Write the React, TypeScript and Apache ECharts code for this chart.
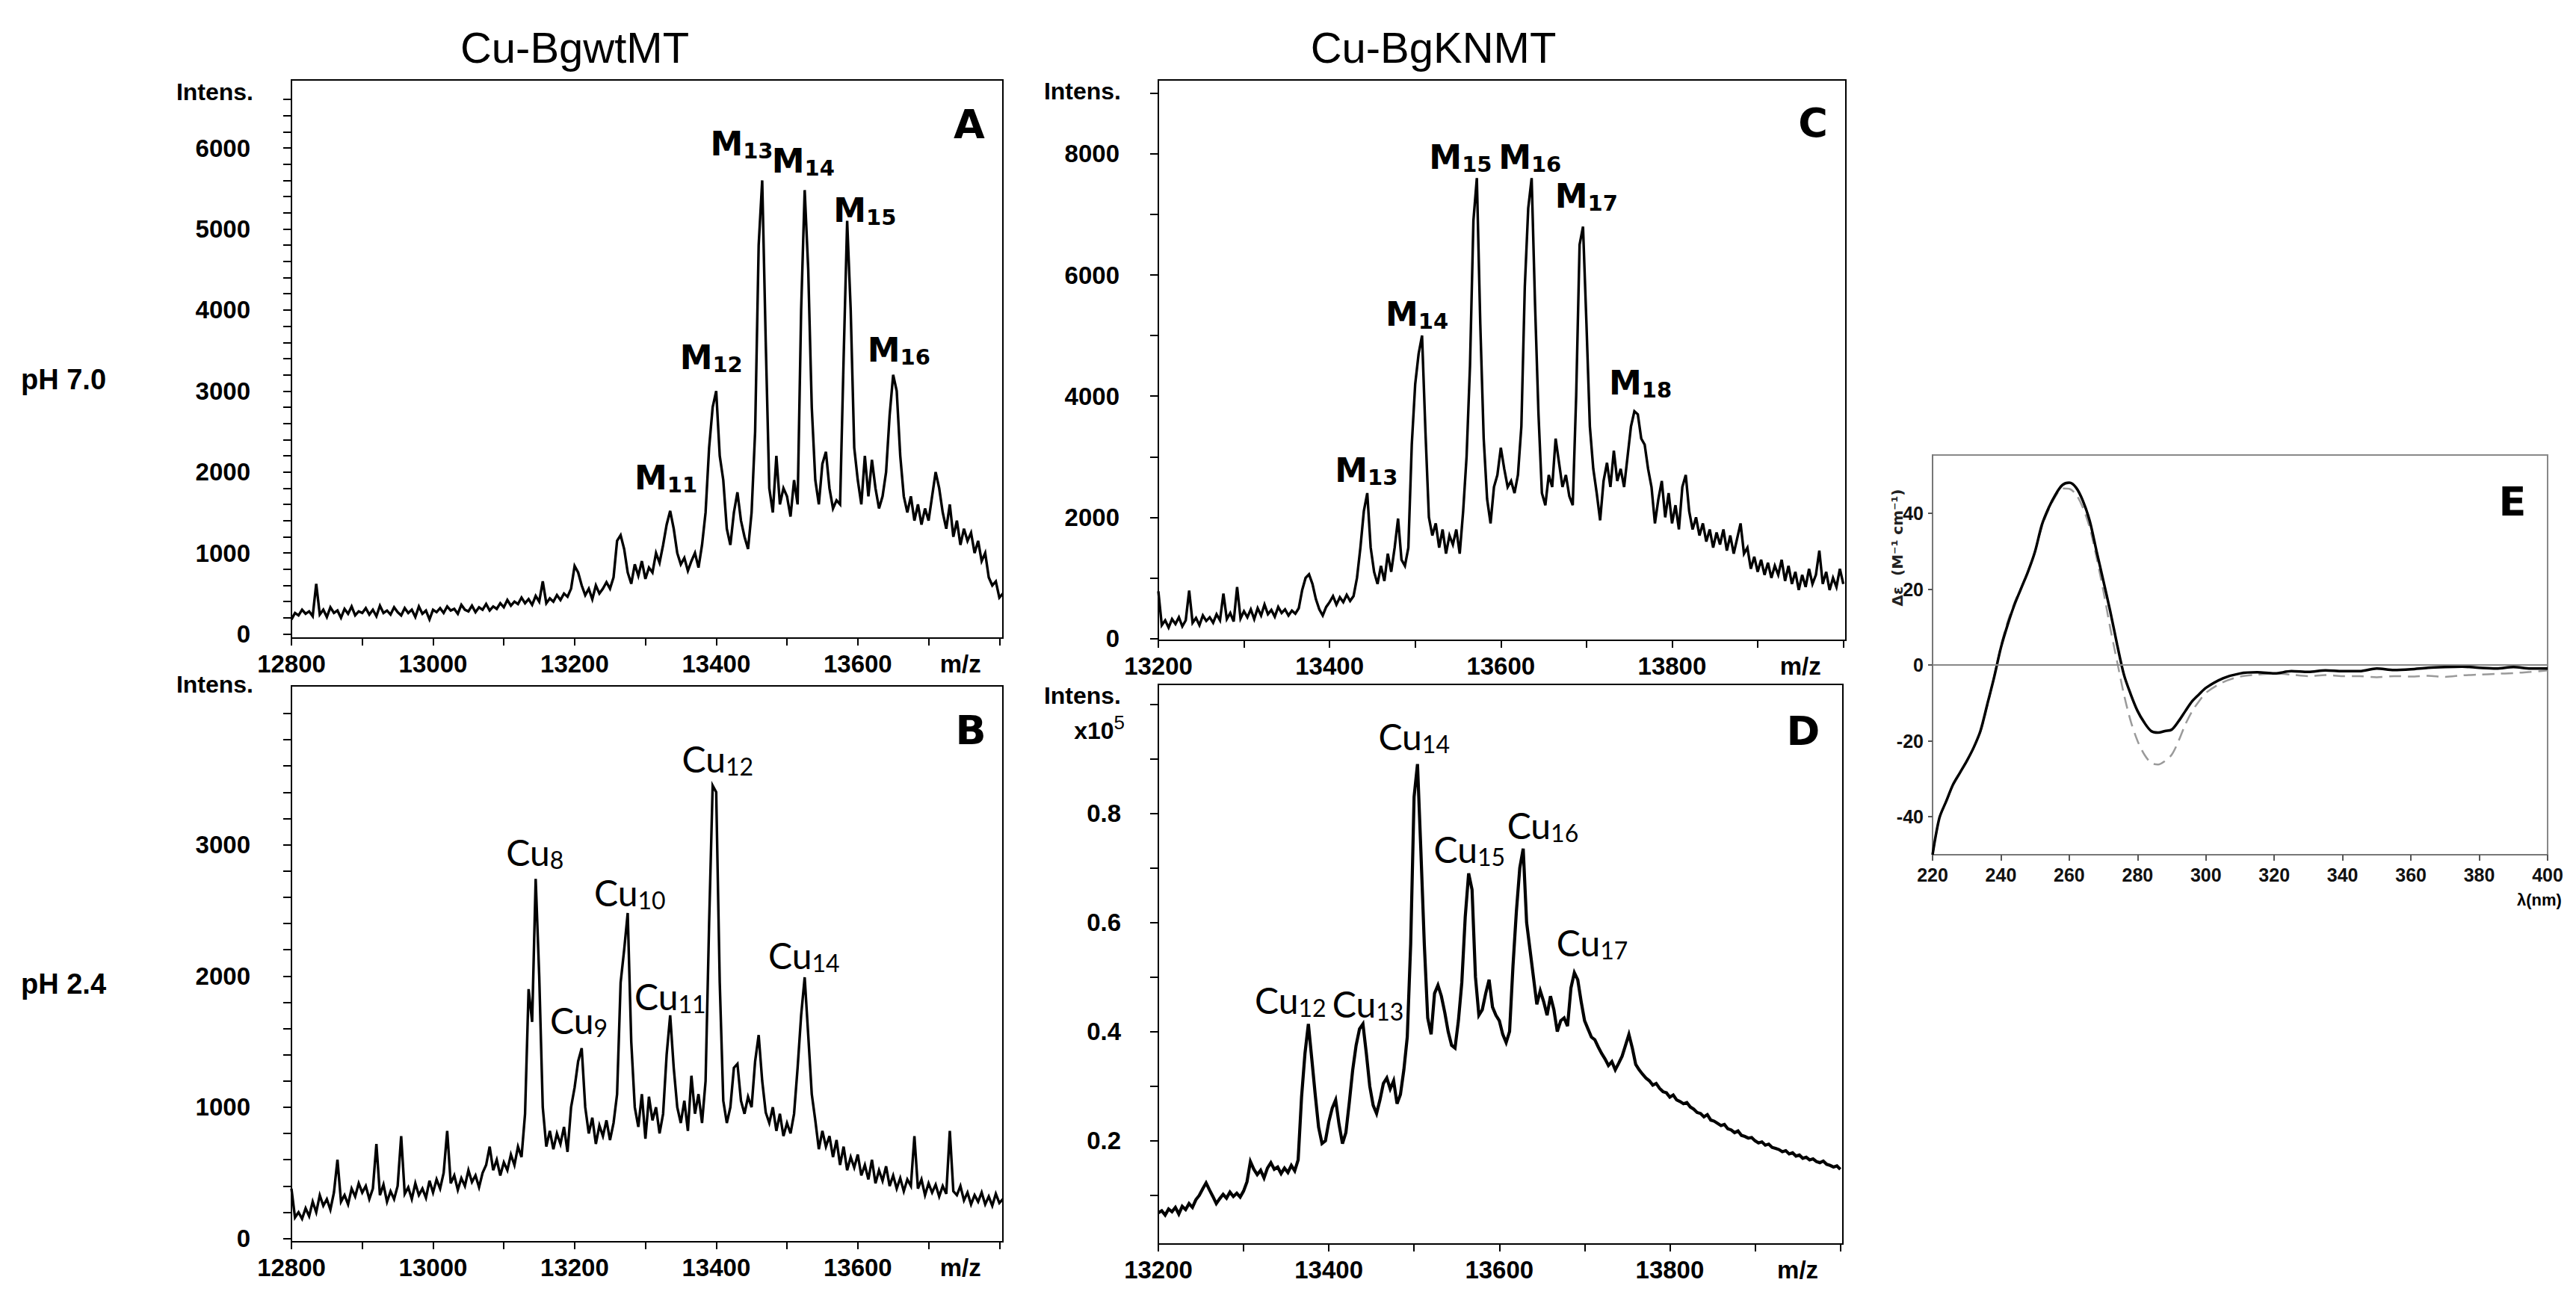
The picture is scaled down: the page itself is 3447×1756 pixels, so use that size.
import { useEffect, useRef } from 'react';
import * as echarts from 'echarts';

const W = 3447;
const H = 1756;

// column titles / row captions
const titleWt = 'Cu-BgwtMT';
const titleKn = 'Cu-BgKNMT';
const rowCaptions = ['pH 7.0', 'pH 2.4'];

// m/z sampling of the deconvoluted spectra
const mzStartWt = 12800;
const mzStepWt = 5;
const mzStartKn = 13200;
const mzStepKn = 4;

// A: Cu-BgwtMT pH 7.0 (intensity)
const specA = [
  180, 260, 230, 300, 250, 280, 220, 620, 240, 300,
  210, 330, 260, 290, 200, 310, 250, 340, 230, 280,
  260, 320, 240, 300, 220, 350, 260, 290, 240, 330,
  270, 230, 320, 260, 300, 210, 340, 250, 290, 180,
  300, 270, 320, 260, 340, 290, 310, 250, 360, 300,
  280, 350, 270, 330, 300, 370, 290, 340, 310, 380,
  330, 420, 350, 400, 370, 450, 380, 430, 360, 470,
  400, 650, 380, 440, 400, 480, 420, 500, 460, 560,
  840, 760, 600, 480, 560, 430, 600, 500, 560, 640,
  560, 700, 1150, 1220, 1050, 760, 620, 860, 720, 900,
  680, 820, 760, 1000, 880, 1100, 1350, 1520, 1300, 1000,
  860, 940, 780, 900, 1000, 820, 1100, 1500, 2300, 2800,
  3000, 2200, 1900, 1300, 1100, 1500, 1750, 1400, 1200, 1050,
  1500, 2500, 4800, 5600, 3600, 1800, 1500, 2200, 1600, 1800,
  1700, 1450, 1900, 1600, 4000, 5480, 4500, 2800, 1900, 1600,
  2100, 2250, 1800, 1550, 1650, 1600, 3400, 5100, 4000, 2300,
  1900, 1600, 2200, 1700, 2150, 1800, 1550, 1700, 2000, 2700,
  3200, 3000, 2200, 1700, 1500, 1700, 1400, 1600, 1350, 1550,
  1400, 1700, 2000, 1800, 1500, 1300, 1600, 1200, 1400, 1100,
  1300, 1150, 1250, 1000, 1150, 900, 1000, 700, 600, 650,
  450, 500,
];

// B: Cu-BgwtMT pH 2.4
const specB = [
  380, 160, 200, 150, 230, 170, 280, 200, 330, 250,
  300, 220, 350, 600, 280, 330, 260, 380, 320, 420,
  350, 400, 300, 380, 720, 330, 410, 280, 360, 300,
  400, 780, 340, 390, 300, 420, 330, 380, 310, 440,
  350, 450, 380, 500, 820, 420, 480, 370, 460, 400,
  520, 430, 480, 390, 500, 560, 700, 520, 600, 480,
  580, 520, 640, 560, 700, 620, 950, 1900, 1650, 2740,
  2000, 1000, 700, 820, 680, 800, 720, 850, 660, 1000,
  1150, 1350, 1450, 1000, 800, 920, 720, 860, 780, 900,
  750, 880, 1100, 1950, 2200, 2480, 1500, 1000, 850, 1100,
  760, 1080, 900, 1000, 800, 950, 1400, 1700, 1300, 1000,
  880, 1050, 820, 1240, 950, 1100, 880, 1200, 2400, 3450,
  3400, 1950, 1050, 880, 1000, 1300, 1330, 1050, 950, 1080,
  1000, 1350, 1550, 1200, 960, 880, 1000, 820, 950, 780,
  880, 800, 950, 1300, 1700, 1990, 1550, 1100, 900, 680,
  820, 700, 780, 620, 750, 560, 700, 520, 620, 540,
  640, 480, 560, 450, 600, 420, 520, 440, 550, 400,
  480, 380, 460, 360, 450, 400, 780, 380, 450, 330,
  420, 350, 410, 320, 400, 340, 820, 360, 330, 400,
  290, 350, 260, 330, 280, 350, 260, 320, 250, 340,
  270, 300,
];

// C: Cu-BgKNMT pH 7.0
const specC = [
  780, 220, 300, 180, 320, 240, 350, 200, 300, 790,
  260, 340, 220, 380, 290, 350, 260, 400, 300, 740,
  320, 420, 280, 850, 330, 450, 350, 480, 320, 500,
  380, 560, 400, 470, 360, 520, 420, 480, 380, 460,
  410, 500, 800, 1000, 1060, 900, 650, 480, 380, 520,
  600, 700, 560, 680, 600, 720, 620, 700, 1000, 1500,
  2100, 2400, 1500, 1100, 900, 1200, 950, 1400, 1100, 1500,
  1980, 1300, 1200, 1500, 3200, 4200, 4700, 5000, 3400, 2000,
  1700, 1900, 1500, 1800, 1400, 1700, 1550, 1800, 1400, 2100,
  3000, 4500, 6900, 7600, 5200, 3300, 2300, 1900, 2500, 2700,
  3150, 2800, 2500, 2600, 2400, 2700, 3500, 5800, 7100, 7600,
  5500, 3700, 2400, 2200, 2700, 2500, 3300, 2900, 2500, 2700,
  2350, 2200, 4000, 6500, 6800, 5200, 3500, 2800, 2400, 1950,
  2600, 2900, 2500, 3100, 2600, 2800, 2500, 3000, 3500, 3750,
  3700, 3300, 3200, 2800, 2500, 1900, 2300, 2600, 2000, 2400,
  1900, 2200, 1800, 2500, 2700, 2100, 1800, 2000, 1700, 1900,
  1600, 1800, 1500, 1750, 1550, 1800, 1450, 1700, 1400, 1650,
  1900, 1400, 1500, 1150, 1350, 1100, 1300, 1050, 1250, 1000,
  1200, 1050, 1300, 950, 1200, 900, 1100, 800, 1050, 850,
  1150, 900, 1050, 1450, 900, 1100, 800, 1000, 850, 1150,
  900,
];

// D: Cu-BgKNMT pH 2.4 (x10^5)
const specD = [
  0.068, 0.072, 0.064, 0.075, 0.070, 0.078, 0.066, 0.080, 0.074, 0.085,
  0.078, 0.092, 0.100, 0.112, 0.123, 0.110, 0.098, 0.085, 0.094, 0.102,
  0.095, 0.106, 0.098, 0.104, 0.097, 0.108, 0.125, 0.162, 0.148, 0.138,
  0.146, 0.132, 0.150, 0.160, 0.148, 0.152, 0.140, 0.150, 0.142, 0.155,
  0.145, 0.165, 0.280, 0.360, 0.414, 0.350, 0.285, 0.225, 0.195, 0.200,
  0.235, 0.260, 0.275, 0.230, 0.195, 0.215, 0.270, 0.330, 0.375, 0.405,
  0.414, 0.360, 0.300, 0.265, 0.250, 0.275, 0.305, 0.315, 0.295, 0.310,
  0.268, 0.285, 0.330, 0.390, 0.560, 0.830, 0.890, 0.730, 0.560, 0.425,
  0.395, 0.470, 0.485, 0.465, 0.435, 0.400, 0.375, 0.370, 0.420, 0.490,
  0.610, 0.690, 0.660, 0.500, 0.430, 0.440, 0.470, 0.495, 0.445, 0.430,
  0.420, 0.395, 0.380, 0.400, 0.520, 0.620, 0.700, 0.735, 0.600, 0.550,
  0.500, 0.450, 0.475, 0.455, 0.430, 0.465, 0.440, 0.400, 0.420, 0.425,
  0.410, 0.480, 0.508, 0.495, 0.455, 0.420, 0.405, 0.390, 0.385, 0.372,
  0.360, 0.350, 0.338, 0.345, 0.330, 0.342, 0.355, 0.375, 0.395, 0.370,
  0.340, 0.330, 0.322, 0.315, 0.310, 0.302, 0.305, 0.296, 0.290, 0.288,
  0.280, 0.284, 0.275, 0.272, 0.268, 0.270, 0.262, 0.258, 0.252, 0.250,
  0.244, 0.248, 0.238, 0.236, 0.232, 0.228, 0.230, 0.222, 0.220, 0.215,
  0.218, 0.210, 0.208, 0.205, 0.206, 0.200, 0.196, 0.198, 0.192, 0.194,
  0.188, 0.186, 0.184, 0.180, 0.182, 0.176, 0.178, 0.172, 0.174, 0.168,
  0.170, 0.165, 0.167, 0.162, 0.160, 0.163, 0.157, 0.155, 0.152, 0.154,
  0.148,
];

// E: CD spectra
const cdWavelengths = [
  220, 222, 224, 226, 228, 230, 232, 234, 236, 238, 240, 242, 244, 246, 248, 250,
  252, 254, 256, 258, 260, 262, 264, 266, 268, 270, 272, 274, 276, 278, 280, 282,
  284, 286, 288, 290, 292, 294, 296, 298, 300, 305, 310, 315, 320, 325, 330, 335,
  340, 345, 350, 355, 360, 365, 370, 375, 380, 385, 390, 395, 400,
];
const cdSolid = [
  -50, -40.3, -35.9, -31.5, -28.4, -25.3, -21.8, -17.4, -10.4, -3.3, 4.6, 10.7, 16, 20.4, 24.8, 30,
  37, 41.5, 45, 47.5, 48.1, 46.8, 43.3, 38, 30, 22.2, 14.2, 5.5, -2.5, -7.7, -12.1, -15.2,
  -17.4, -17.8, -17.4, -17, -14.8, -12.1, -9.5, -7.7, -6, -3.5, -2.2, -1.9, -2.2, -1.6, -1.8, -1.4,
  -1.6, -1.6, -0.9, -1.3, -1.1, -0.7, -0.5, -0.4, -0.7, -0.9, -0.5, -0.9, -0.9,
];
const cdDashed = [
  -50, -40.5, -36, -31.5, -28.4, -25.3, -21.8, -17.6, -10.8, -3, 5, 11.5, 16.5, 20.6, 25, 30,
  36.5, 41, 44.5, 46.6, 46.5, 45, 41.5, 36.2, 28.3, 19.5, 9.8, 1, -7.7, -14.8, -20, -23.6,
  -25.8, -26.2, -25.3, -23.6, -20, -15.6, -12.1, -9.5, -7.3, -4.5, -3, -2.5, -2.2, -2.5, -2.9, -2.6,
  -2.9, -2.9, -3.2, -2.9, -3, -2.8, -3.1, -2.7, -2.5, -2.3, -2.1, -1.8, -1.4,
];

// peak annotations (subscript, label centre m/z, label centre intensity)
const peakNamesA = ['11', '12', '13', '14', '15', '16'];
const peakMzA = [13329, 13393, 13436, 13523, 13610, 13658];
const peakYA = [1920, 3400, 6040, 5830, 5220, 3500];

const peakNamesB = ['8', '9', '10', '11', '12', '14'];
const peakMzB = [13144, 13206, 13278, 13335, 13402, 13524];
const peakYB = [2940, 1656, 2628, 1837, 3648, 2150];

const peakNamesC = ['13', '14', '15', '16', '17', '18'];
const peakMzC = [13443, 13502, 13553, 13634, 13700, 13763];
const peakYC = [2760, 5345, 7930, 7930, 7290, 4210];

const peakNamesD = ['12', '13', '14', '15', '16', '17'];
const peakMzD = [13355, 13446, 13500, 13565, 13651, 13709];
const peakYD = [0.457, 0.45, 0.94, 0.733, 0.776, 0.562];

// tick labels
const mzLabelsWt = [12800, 13000, 13200, 13400, 13600];
const mzLabelsKn = [13200, 13400, 13600, 13800];
const yLabelsA = [0, 1000, 2000, 3000, 4000, 5000, 6000];
const yLabelsB = [0, 1000, 2000, 3000];
const yLabelsC = [0, 2000, 4000, 6000, 8000];
const yLabelsD = [0.2, 0.4, 0.6, 0.8];
const cdXLabels = [220, 240, 260, 280, 300, 320, 340, 360, 380, 400];
const cdYLabels = [-40, -20, 0, 20, 40];

const SANS = 'Liberation Sans, Arial, sans-serif';
const HEAVY = 'DejaVu Sans, Verdana, sans-serif';

const range = (a: number, b: number, s: number) => {
  const out: number[] = [];
  for (let v = a; v <= b + 1e-9; v += s) out.push(+v.toFixed(4));
  return out;
};

const richM = {
  m: { fontFamily: HEAVY, fontWeight: 'bold', fontSize: 44, lineHeight: 46, verticalAlign: 'top', color: '#000' },
  s: { fontFamily: HEAVY, fontWeight: 'bold', fontSize: 29, lineHeight: 31, padding: [21, 0, 0, 0], verticalAlign: 'bottom', color: '#000' },
};
const richCu = {
  m: { fontFamily: 'Lato, Open Sans, sans-serif', fontSize: 48, lineHeight: 50, verticalAlign: 'top', color: '#000' },
  s: { fontFamily: 'Lato, Open Sans, sans-serif', fontSize: 32, lineHeight: 34, padding: [22, 0, 0, 0], verticalAlign: 'bottom', color: '#000' },
};

const axisText = { fontFamily: SANS, fontWeight: 'bold', fontSize: 33, color: '#000' };

const panels = [
  {
    grid: { left: 390, top: 107, width: 952, height: 747 },
    x: [12800, 13805], y: [-50, 6840],
    xTicks: range(12800, 13800, 100), xLabels: mzLabelsWt, mzAt: 13745,
    yTicks: range(0, 6600, 200), yLabels: yLabelsA, yMargin: 55,
    start: mzStartWt, step: mzStepWt, values: specA, width: 3.4,
    prefix: 'M', rich: richM, names: peakNamesA, pmz: peakMzA, py: peakYA,
  },
  {
    grid: { left: 390, top: 918, width: 952, height: 744 },
    x: [12800, 13805], y: [-25, 4210],
    xTicks: range(12800, 13800, 100), xLabels: mzLabelsWt, mzAt: 13745,
    yTicks: range(0, 4000, 200), yLabels: yLabelsB, yMargin: 55,
    start: mzStartWt, step: mzStepWt, values: specB, width: 3.4,
    prefix: 'Cu', rich: richCu, names: peakNamesB, pmz: peakMzB, py: peakYB,
  },
  {
    grid: { left: 1550, top: 107, width: 920, height: 750 },
    x: [13200, 14003], y: [-30, 9220],
    xTicks: range(13200, 14000, 100), xLabels: mzLabelsKn, mzAt: 13950,
    yTicks: range(0, 9000, 1000), yLabels: yLabelsC, yMargin: 52,
    start: mzStartKn, step: mzStepKn, values: specC, width: 3.4,
    prefix: 'M', rich: richM, names: peakNamesC, pmz: peakMzC, py: peakYC,
  },
  {
    grid: { left: 1550, top: 916, width: 916, height: 749 },
    x: [13200, 14003], y: [0.011, 1.036],
    xTicks: range(13200, 14000, 100), xLabels: mzLabelsKn, mzAt: 13950,
    yTicks: range(0.1, 1.0, 0.1), yLabels: yLabelsD, yMargin: 50,
    start: mzStartKn, step: mzStepKn, values: specD, width: 4.2,
    prefix: 'Cu', rich: richCu, names: peakNamesD, pmz: peakMzD, py: peakYD,
  },
];

function buildOption() {
  const grids: any[] = [];
  const xAxes: any[] = [];
  const yAxes: any[] = [];
  const series: any[] = [];

  panels.forEach((p, i) => {
    grids.push({ ...p.grid, show: true, borderColor: '#000', borderWidth: 2, containLabel: false });
    xAxes.push({
      type: 'value', gridIndex: i, min: p.x[0], max: p.x[1],
      axisLine: { show: true, onZero: false, lineStyle: { color: '#000', width: 2 } },
      axisTick: { show: true, customValues: p.xTicks, length: 10, lineStyle: { color: '#000', width: 2 } },
      axisLabel: {
        ...axisText, margin: 18,
        customValues: [...p.xLabels, p.mzAt],
        formatter: (v: number) => (v === p.mzAt ? 'm/z' : String(v)),
      },
      splitLine: { show: false },
    });
    yAxes.push({
      type: 'value', gridIndex: i, min: p.y[0], max: p.y[1],
      axisLine: { show: true, onZero: false, lineStyle: { color: '#000', width: 2 } },
      axisTick: { show: true, customValues: p.yTicks, length: 11, lineStyle: { color: '#000', width: 2 } },
      axisLabel: {
        ...axisText, margin: p.yMargin,
        customValues: p.yLabels,
        formatter: (v: number) => (p.y[1] < 2 ? v.toFixed(1) : String(v)),
      },
      splitLine: { show: false },
    });
    series.push({
      type: 'line', xAxisIndex: i, yAxisIndex: i,
      data: p.values.map((v, k) => [p.start + k * p.step, v]),
      showSymbol: false, symbol: 'none',
      lineStyle: { color: '#000', width: p.width, join: 'miter' },
      silent: true,
      markPoint: {
        symbol: 'rect', symbolSize: 1, silent: true,
        itemStyle: { color: 'transparent' },
        label: {
          show: true, position: 'inside', color: '#000',
          formatter: (d: any) => `{m|${p.prefix}}{s|${d.name}}`,
          rich: p.rich,
        },
        data: p.names.map((n, k) => ({ name: n, coord: [p.pmz[k], p.py[k]] })),
      },
    });
  });

  // panel E (CD)
  const e = panels.length;
  grids.push({ left: 2586, top: 609, width: 823, height: 535, show: true, borderColor: '#888', borderWidth: 2 });
  xAxes.push({
    type: 'value', gridIndex: e, min: 220, max: 400,
    axisLine: { show: true, onZero: false, lineStyle: { color: '#777', width: 2 } },
    axisTick: { show: true, customValues: cdXLabels, length: 8, lineStyle: { color: '#555', width: 2 } },
    axisLabel: { customValues: cdXLabels, fontFamily: SANS, fontWeight: 'bold', fontSize: 25, color: '#111', margin: 14 },
    splitLine: { show: false },
  });
  yAxes.push({
    type: 'value', gridIndex: e, min: -50, max: 55.4,
    axisLine: { show: true, onZero: false, lineStyle: { color: '#777', width: 2 } },
    axisTick: { show: true, customValues: cdYLabels, length: 6, lineStyle: { color: '#555', width: 2 } },
    axisLabel: { customValues: cdYLabels, fontFamily: SANS, fontWeight: 'bold', fontSize: 25, color: '#111', margin: 12 },
    splitLine: { show: false },
  });
  series.push({
    type: 'line', xAxisIndex: e, yAxisIndex: e, smooth: 0.3,
    data: cdWavelengths.map((w, k) => [w, cdDashed[k]]),
    showSymbol: false, symbol: 'none', silent: true,
    lineStyle: { color: '#9a9a9a', width: 2.5, type: [16, 9] },
  });
  series.push({
    type: 'line', xAxisIndex: e, yAxisIndex: e, smooth: 0.3,
    data: cdWavelengths.map((w, k) => [w, cdSolid[k]]),
    showSymbol: false, symbol: 'none', silent: true,
    lineStyle: { color: '#000', width: 3.5 },
    markLine: {
      silent: true, symbol: ['none', 'none'], label: { show: false },
      lineStyle: { color: '#888', width: 2, type: 'solid' },
      data: [{ yAxis: 0 }],
    },
  });

  const txt = (x: number, y: number, text: string, fontSize: number, opts: any = {}) => ({
    type: 'text', x, y, silent: true, rotation: opts.rotation || 0,
    style: {
      text, fontSize,
      fontFamily: opts.fontFamily || SANS,
      fontWeight: opts.fontWeight || 'bold',
      fill: opts.fill || '#000',
      align: opts.align || 'center', textAlign: opts.align || 'center',
      verticalAlign: 'middle', textVerticalAlign: 'middle',
      rich: opts.rich,
    },
  });

  const graphic = [
    txt(769, 63, titleWt, 58, { fontWeight: 'normal' }),
    txt(1918, 63, titleKn, 58, { fontWeight: 'normal' }),
    txt(85, 508, rowCaptions[0], 38),
    txt(85, 1317, rowCaptions[1], 38),
    txt(339, 123, 'Intens.', 32, { align: 'right' }),
    txt(339, 916, 'Intens.', 32, { align: 'right' }),
    txt(1500, 122, 'Intens.', 32, { align: 'right' }),
    txt(1500, 931, 'Intens.', 32, { align: 'right' }),
    txt(1505, 974, '{a|x10}{b|5}', 32, {
      align: 'right',
      rich: {
        a: { fontFamily: SANS, fontWeight: 'bold', fontSize: 32, lineHeight: 40, verticalAlign: 'bottom' },
        b: { fontFamily: SANS, fontSize: 26, lineHeight: 26, verticalAlign: 'top' },
      },
    }),
    txt(1297, 166, 'A', 54, { fontFamily: HEAVY }),
    txt(1299, 977, 'B', 54, { fontFamily: HEAVY }),
    txt(2426, 164, 'C', 54, { fontFamily: HEAVY }),
    txt(2413, 978, 'D', 54, { fontFamily: HEAVY }),
    txt(3362, 671, 'E', 54, { fontFamily: HEAVY }),
    txt(3398, 1204, 'λ(nm)', 22),
    txt(2539, 733, 'Δε  (M⁻¹ cm⁻¹)', 20, { fontFamily: 'DejaVu Sans, sans-serif', rotation: Math.PI / 2, fill: '#222' }),
  ];

  return {
    animation: false,
    backgroundColor: '#fff',
    grid: grids,
    xAxis: xAxes,
    yAxis: yAxes,
    series,
    graphic,
  };
}

export default function App() {
  const divRef = useRef<HTMLDivElement>(null);

  useEffect(() => {
    document.body.style.margin = '0';
    if (!divRef.current) return;
    const chart = echarts.init(divRef.current, undefined, { renderer: 'svg' });
    chart.setOption(buildOption() as any);
    return () => {
      chart.dispose();
    };
  }, []);

  return <div ref={divRef} style={{ width: W, height: H, background: '#fff' }} />;
}
